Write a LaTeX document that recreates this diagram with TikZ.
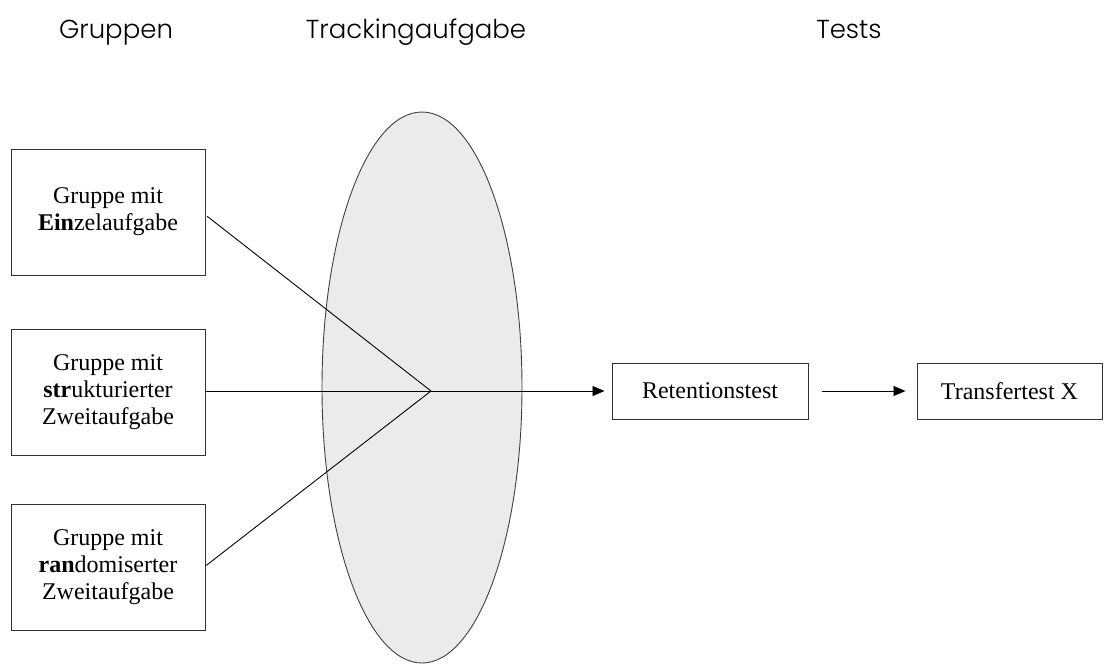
\documentclass[tikz,border=0pt]{standalone}
\usepackage{fontspec}
\setmainfont{Liberation Serif}
\newfontfamily\hdr{Poppins Light}
\usetikzlibrary{shapes.geometric,arrows.meta}
\tikzset{
  grp/.style={draw=black!80, line width=1pt, minimum width=194pt, minimum height=126pt, inner sep=0pt, align=center, font=\fontsize{24}{27}\selectfont},
  tbox/.style={draw=black!80, line width=1pt, minimum height=56pt, inner sep=0pt, align=center, font=\fontsize{24}{27}\selectfont},
  hd/.style={font=\hdr\fontsize{26}{30}\selectfont, anchor=base, inner sep=0pt},
  conn/.style={line width=0.9pt, black},
  arr/.style={conn, -{Triangle[length=12pt,width=10pt]}},
}
\begin{document}
\begin{tikzpicture}[x=1pt,y=-1pt]
\useasboundingbox (0,0) rectangle (1104,664);
\node[hd] (h1) at (116,38) {Gruppen};
\node[hd] (h2) at (416,38) {Trackingaufgabe};
\node[hd] (h3) at (849,38) {Tests};
\node[ellipse, draw=black!75, fill=black!8, line width=0.9pt, minimum width=200pt, minimum height=551pt, inner sep=0pt] (ell) at (422,387.5) {};
\node[grp] (b1) at (108,212) {Gruppe mit\\\textbf{Ein}zelaufgabe};
\node[grp] (b2) at (108,392.5) {Gruppe mit\\\textbf{str}ukturierter\\Zweitaufgabe};
\node[grp] (b3) at (108,567) {Gruppe mit\\\textbf{ran}domiserter\\Zweitaufgabe};
\node[tbox, minimum width=196pt] (ret) at (710,391) {Retentionstest};
\node[tbox, minimum width=185pt] (tra) at (1009.5,391) {Transfertest X};
\coordinate (c) at (431,391);
\draw[conn, shorten <=2pt] (b1.east |- 0,215) -- (c);
\draw[conn, shorten <=1pt] (b3.east |- 0,566) -- (c);
\draw[arr, shorten >=7pt] (b2.east |- 0,391) -- (ret.west);
\draw[arr, shorten <=13pt, shorten >=11pt] (ret.east) -- (tra.west);
\end{tikzpicture}
\end{document}
